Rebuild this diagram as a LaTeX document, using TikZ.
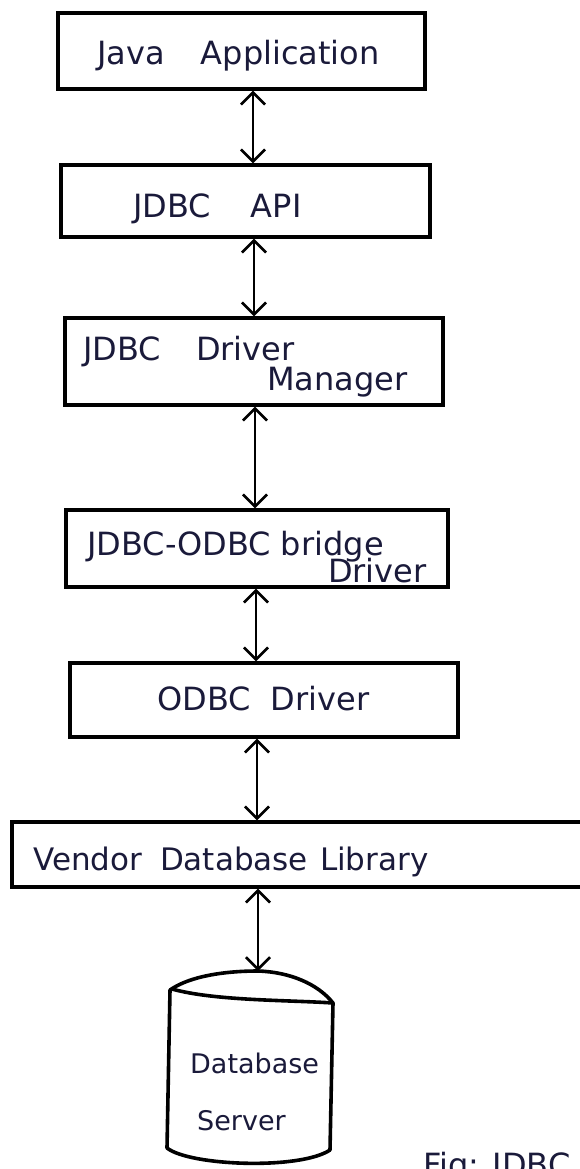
\documentclass[tikz,border=0pt]{standalone}
\usepackage{fontspec}
\setmainfont{DejaVu Sans}
\usetikzlibrary{arrows.meta}
\definecolor{ink}{HTML}{1A1A3A}
\begin{document}
\begin{tikzpicture}[x=1pt,y=-1pt,
  box/.style={draw=black, line width=3.4pt, inner sep=0pt},
  lbl/.style={text=ink, inner sep=0pt, anchor=base west, font=\fontsize{32}{34}\selectfont},
  small/.style={font=\fontsize{27}{29}\selectfont},
  conn/.style={draw=black, line width=2.6pt, {Straight Barb[length=12pt,width=24pt]}-{Straight Barb[length=12pt,width=24pt]}},
  outline/.style={draw=black, line width=3.6pt, line cap=round, line join=round}]
\useasboundingbox (0,0) rectangle (579,1169);
\fill[white] (0,0) rectangle (579,1169);

% layer boxes
\node[box, minimum width=367pt, minimum height=76pt] (b1) at (241.5,51) {};
\node[box, minimum width=369pt, minimum height=72pt] (b2) at (245.5,201) {};
\node[box, minimum width=378pt, minimum height=87pt] (b3) at (254,361.5) {};
\node[box, minimum width=382pt, minimum height=77pt] (b4) at (257,548.5) {};
\node[box, minimum width=388pt, minimum height=74pt] (b5) at (264,700) {};
\node[box, minimum width=600pt, minimum height=65pt] (b6) at (312,854.5) {};

% labels
\node[lbl] (t1) at (97,65) {Java\hspace{36pt}Application};
\node[lbl] (t2) at (133,218) {JDBC\hspace{40pt}API};
\node[lbl] (t3a) at (83,360) {JDBC\hspace{35pt}Driver};
\node[lbl] (t3b) at (267,390) {Manager};
\node[lbl] (t4a) at (87,555) {JDBC-ODBC\hspace{10pt}bridge};
\node[lbl] (t4b) at (328,582) {Driver};
\node[lbl] (t5) at (157,710) {ODBC\hspace{20pt}Driver};
\node[lbl, font=\fontsize{31}{33}\selectfont] (t6) at (33,870) {Vendor\hspace{18pt}Database\hspace{12pt}Library};

% database cylinder
\coordinate (dbtop) at (258,971);
\draw[outline] (170,990) .. controls (190,976) and (225,971) .. (dbtop)
  .. controls (290,972) and (318,984) .. (333,1003);
\draw[outline] (172,989) .. controls (215,1001) and (290,1000) .. (333,1003);
\draw[outline] (170,990) -- (167,1148);
\draw[outline] (333,1003) -- (330,1150);
\draw[outline] (167,1148) .. controls (190,1166) and (300,1170) .. (330,1150);
\node[lbl, small] (t7a) at (190,1073) {Database};
\node[lbl, small] (t7b) at (197,1130) {Server};

% caption
\node[lbl] (cap) at (423,1176) {Fig: JDBC};

% connector columns
\coordinate (x1) at (253,0);
\coordinate (x2) at (254,0);
\coordinate (x3) at (255,0);
\coordinate (x4) at (256,0);
\coordinate (x5) at (257,0);
\coordinate (x6) at (258,0);

\draw[conn] (b1.south -| x1) -- (b2.north -| x1);
\draw[conn] (b2.south -| x2) -- (b3.north -| x2);
\draw[conn] (b3.south -| x3) -- (b4.north -| x3);
\draw[conn] (b4.south -| x4) -- (b5.north -| x4);
\draw[conn] (b5.south -| x5) -- (b6.north -| x5);
\draw[conn] (b6.south -| x6) -- (dbtop);
\end{tikzpicture}
\end{document}
